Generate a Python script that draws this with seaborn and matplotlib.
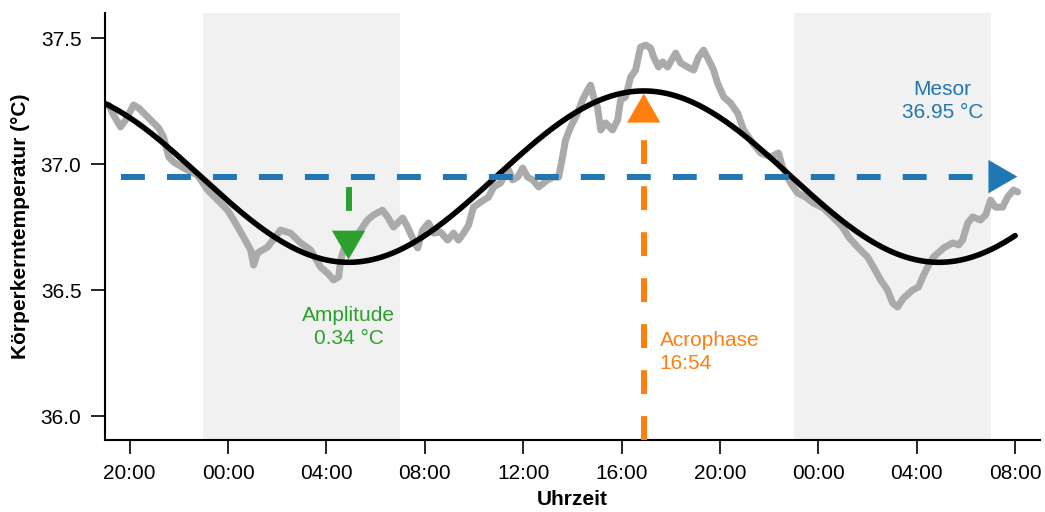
import numpy as np
import pandas as pd
import matplotlib
matplotlib.use("Agg")
import matplotlib.pyplot as plt
import seaborn as sns

# hours since midnight of day 0 (19 = 19:00, 43 = 19:00 next day ...)
raw_hours = [19.15, 19.35, 19.63, 19.84, 20.16, 20.37, 20.73, 21.18, 21.38, 21.59,
             21.79, 22.20, 22.76, 23.17, 23.58, 23.98, 24.23, 24.63, 24.92, 25.04,
             25.20, 25.61, 26.14, 26.54, 26.95, 27.36, 27.76, 28.05, 28.29, 28.50,
             28.58, 28.70, 28.98, 29.39, 29.67, 29.92, 30.28, 30.49, 30.73, 31.10,
             31.30, 31.54, 31.71, 31.91, 32.15, 32.36, 32.64, 32.93, 33.17, 33.37,
             33.58, 33.78, 33.98, 34.27, 34.59, 34.80, 35.08, 35.20, 35.41, 35.57,
             35.77, 35.98, 36.18, 36.38, 36.63, 36.99, 37.24, 37.44, 37.60, 37.72,
             37.93, 38.21, 38.41, 38.62, 38.74, 38.86, 39.02, 39.15, 39.35, 39.63,
             39.84, 39.96, 40.16, 40.37, 40.57, 40.77, 40.98, 41.18, 41.30, 41.50,
             41.67, 41.87, 42.20, 42.40, 42.68, 42.93, 43.13, 43.33, 43.54, 43.74,
             43.90, 44.15, 44.43, 44.72, 44.96, 45.33, 45.65, 46.06, 46.38, 46.54,
             46.87, 47.15, 47.48, 47.80, 48.21, 48.62, 48.98, 49.23, 49.59, 50.00,
             50.24, 50.53, 50.81, 51.02, 51.22, 51.46, 51.83, 52.07, 52.28, 52.48,
             52.68, 53.09, 53.46, 53.70, 53.86, 54.07, 54.27, 54.59, 54.80, 55.00,
             55.20, 55.49, 55.69, 55.93, 56.10]
raw_temp = [37.234, 37.194, 37.147, 37.175, 37.234, 37.222, 37.187, 37.143, 37.107, 37.028,
            37.008, 36.984, 36.956, 36.897, 36.857, 36.817, 36.778, 36.710, 36.659, 36.599,
            36.647, 36.671, 36.738, 36.726, 36.687, 36.659, 36.591, 36.567, 36.540, 36.552,
            36.619, 36.659, 36.687, 36.738, 36.778, 36.798, 36.817, 36.790, 36.750, 36.786,
            36.750, 36.698, 36.667, 36.738, 36.766, 36.726, 36.730, 36.698, 36.726, 36.698,
            36.726, 36.758, 36.829, 36.849, 36.869, 36.909, 36.925, 36.948, 36.976, 36.937,
            36.948, 36.984, 36.948, 36.937, 36.909, 36.937, 36.948, 36.948, 37.028, 37.095,
            37.147, 37.202, 37.254, 37.294, 37.313, 37.266, 37.226, 37.135, 37.163, 37.135,
            37.175, 37.254, 37.266, 37.345, 37.373, 37.464, 37.472, 37.460, 37.425, 37.385,
            37.405, 37.385, 37.440, 37.401, 37.385, 37.373, 37.425, 37.452, 37.413, 37.373,
            37.321, 37.266, 37.242, 37.202, 37.135, 37.083, 37.044, 37.028, 37.044, 36.988,
            36.925, 36.885, 36.869, 36.845, 36.825, 36.786, 36.750, 36.710, 36.671, 36.631,
            36.591, 36.540, 36.500, 36.448, 36.433, 36.468, 36.500, 36.512, 36.560, 36.599,
            36.631, 36.667, 36.687, 36.679, 36.698, 36.766, 36.790, 36.778, 36.798, 36.857,
            36.829, 36.829, 36.869, 36.897, 36.889]

# cosinor parameters shown in the chart
mesor = 36.95
amplitude = 0.34
acrophase = 16.9          # 16:54
period = 24.0

night_start = [23.0, 47.0]
night_end = [31.0, 55.0]

tick_hours = [20, 24, 28, 32, 36, 40, 44, 48, 52, 56]
tick_labels = ["20:00", "00:00", "04:00", "08:00", "12:00", "16:00",
               "20:00", "00:00", "04:00", "08:00"]

BLUE, ORANGE, GREEN = "#1f77b4", "#ff7f0e", "#2ca02c"

sns.set_theme(style="ticks")
plt.rcParams["font.family"] = ["Liberation Sans", "DejaVu Sans"]
plt.rcParams["font.size"] = 15
plt.rcParams["axes.labelcolor"] = "black"

fig = plt.figure(figsize=(10.45, 5.12), dpi=100)
ax = fig.add_axes([0.1005, 0.1406, 0.8945, 0.8344])

for s, e in zip(night_start, night_end):
    ax.axvspan(s, e, color="#f1f1f1", lw=0, zorder=0)

raw = pd.DataFrame({"hour": raw_hours, "temp": raw_temp})
sns.lineplot(data=raw, x="hour", y="temp", color="#aaaaaa", lw=5, ax=ax, zorder=2,
             solid_joinstyle="round", solid_capstyle="round")

# fitted cosinor curve from the parameters above
fit_t = np.linspace(19.0, 56.0, 400)
fit = pd.DataFrame({"hour": fit_t,
                    "temp": mesor + amplitude * np.cos(2 * np.pi * (fit_t - acrophase) / period)})
sns.lineplot(data=fit, x="hour", y="temp", color="black", lw=4, ax=ax, zorder=3)

dash_kw = dict(lw=4.3, dashes=(4, 3.7), solid_capstyle="butt", zorder=4)
head = "-|>,head_length=1.3,head_width=0.75"
head_kw = dict(lw=0, mutation_scale=16)

# mesor
mes_x0, mes_x1 = 19.63, 56.2
ax.plot([mes_x0, mes_x1 - 0.7], [mesor, mesor], color=BLUE, **dash_kw)
ax.annotate("", xy=(mes_x1, mesor), xytext=(mes_x1 - 1.2, mesor),
            arrowprops=dict(arrowstyle=head, color=BLUE, **head_kw), zorder=5)
ax.text(53.05, 37.25, "Mesor\n36.95 °C", color=BLUE, ha="center", va="center",
        fontsize=15, linespacing=1.3)

# amplitude (trough at 04:54)
trough = acrophase + period / 2
ax.plot([trough, trough], [36.91, mesor - amplitude + 0.07], color=GREEN, **dash_kw)
ax.annotate("", xy=(trough, mesor - amplitude), xytext=(trough, mesor - amplitude + 0.13),
            arrowprops=dict(arrowstyle=head, color=GREEN, **head_kw), zorder=5)
ax.text(trough, 36.353, "Amplitude\n0.34 °C", color=GREEN, ha="center", va="center",
        fontsize=15, linespacing=1.3)

# acrophase
peak = acrophase + period
ax.plot([peak, peak], [35.905, mesor + amplitude - 0.07], color=ORANGE, **dash_kw)
ax.annotate("", xy=(peak, mesor + amplitude), xytext=(peak, mesor + amplitude - 0.12),
            arrowprops=dict(arrowstyle=head, color=ORANGE, **head_kw), zorder=5)
ax.text(41.54, 36.254, "Acrophase\n16:54", color=ORANGE, ha="left", va="center",
        fontsize=15, linespacing=1.3)

ax.set_xlim(19.0, 57.0)
ax.set_ylim(35.905, 37.6)
ax.set_xticks(tick_hours)
ax.set_xticklabels(tick_labels)
ax.set_yticks([36.0, 36.5, 37.0, 37.5])
ax.set_yticklabels(["36.0", "36.5", "37.0", "37.5"])
ax.tick_params(length=10, width=1.2, pad=7, labelsize=15, colors="black")
for side in ["left", "bottom"]:
    ax.spines[side].set_linewidth(1.5)
    ax.spines[side].set_color("black")
sns.despine(ax=ax)
ax.set_xlabel("Uhrzeit", fontweight="bold", fontsize=15, labelpad=5)
ax.set_ylabel("Körperkerntemperatur (°C)", fontweight="bold", fontsize=15, labelpad=8)
ax.grid(False)

fig.savefig("out.png", dpi=100)
